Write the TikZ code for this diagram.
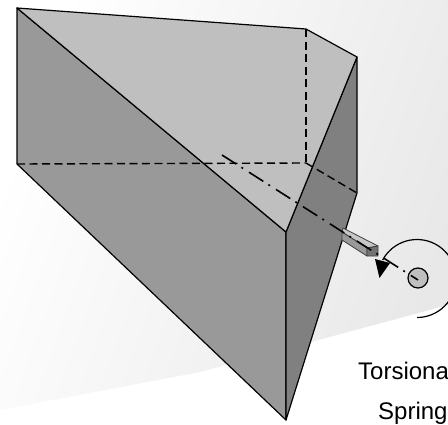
\documentclass[tikz,border=0pt]{standalone}
\usepackage{fontspec}
\setmainfont{Liberation Sans}
\tikzset{
  edgeline/.style={draw=black,line width=1.2pt,line join=round},
  hidden/.style={draw=black,line width=1.4pt,dash pattern=on 8pt off 4.5pt},
  axisline/.style={draw=black,line width=1.6pt,dash pattern=on 17pt off 6pt on 2pt off 7pt},
  label/.style={anchor=base west,inner sep=0pt,font=\fontsize{24}{24}\selectfont}
}
\begin{document}
\begin{tikzpicture}[x=1pt,y=-1pt]
\useasboundingbox (0,0) rectangle (448,424);
\clip (0,0) rectangle (448,424);
\fill[white] (0,0) rectangle (448,424);
\begin{scope}
\clip (0,0) -- (448,0) -- (448,305) -- (200,372) -- (0,410) -- cycle;
\shade[top color=white,bottom color=black!9,shading angle=70] (0,0) rectangle (448,424);
\end{scope}
\coordinate (A) at (17,8);
\coordinate (B) at (306,29);
\coordinate (C) at (357,57);
\coordinate (D) at (357,193);
\coordinate (E) at (286,232);
\coordinate (F) at (286,420);
\coordinate (G) at (17,164);
\coordinate (H) at (306,163);
\coordinate (S1) at (343,228);
\coordinate (S2) at (378,246);
\coordinate (S3) at (367,248);
\coordinate (S4) at (342,232);
\coordinate (S5) at (342,240);
\coordinate (S6) at (367,256);
\coordinate (S7) at (378,256);
\coordinate (O) at (417,278.5);
\coordinate (Q) at (418,278);
\coordinate (X1) at (222,155);
\coordinate (X2) at (418,280);
% faces
\path[edgeline,fill=black!40] (A) -- (E) -- (F) -- (G) -- cycle;
\path[edgeline,fill=black!50] (C) -- (D) -- (F) -- (E) -- cycle;
\path[edgeline,fill=black!25] (A) -- (B) -- (C) -- (E) -- cycle;
% shaft
\path[draw=black!75,line width=.8pt,fill=black!22,line join=round] (S1) -- (S2) -- (S3) -- (S4) -- cycle;
\path[draw=black!75,line width=.8pt,fill=black!40,line join=round] (S4) -- (S3) -- (S6) -- (S5) -- cycle;
\path[draw=black!75,line width=.8pt,fill=black!55,line join=round] (S3) -- (S2) -- (S7) -- (S6) -- cycle;
% hidden edges
\draw[hidden] (G) -- (H);
\draw[hidden] (B) -- (H);
\draw[hidden] (H) -- (D);
% spring
\begin{scope}
\clip (O) -- (417,340) -- (460,340) -- (460,200) -- (349,200) -- (349,242) -- cycle;
\draw[edgeline] (O) circle[radius=39];
\end{scope}
\path[edgeline,fill=black!25] (Q) circle[radius=10];
\draw[axisline] (X1) -- (X2);
\fill[black] (375,259) -- (390,263) -- (379.5,278) -- cycle;
\node[label] (t1) at (358,379) {Torsional};
\node[label] (t2) at (378,419) {Spring};
\end{tikzpicture}
\end{document}
